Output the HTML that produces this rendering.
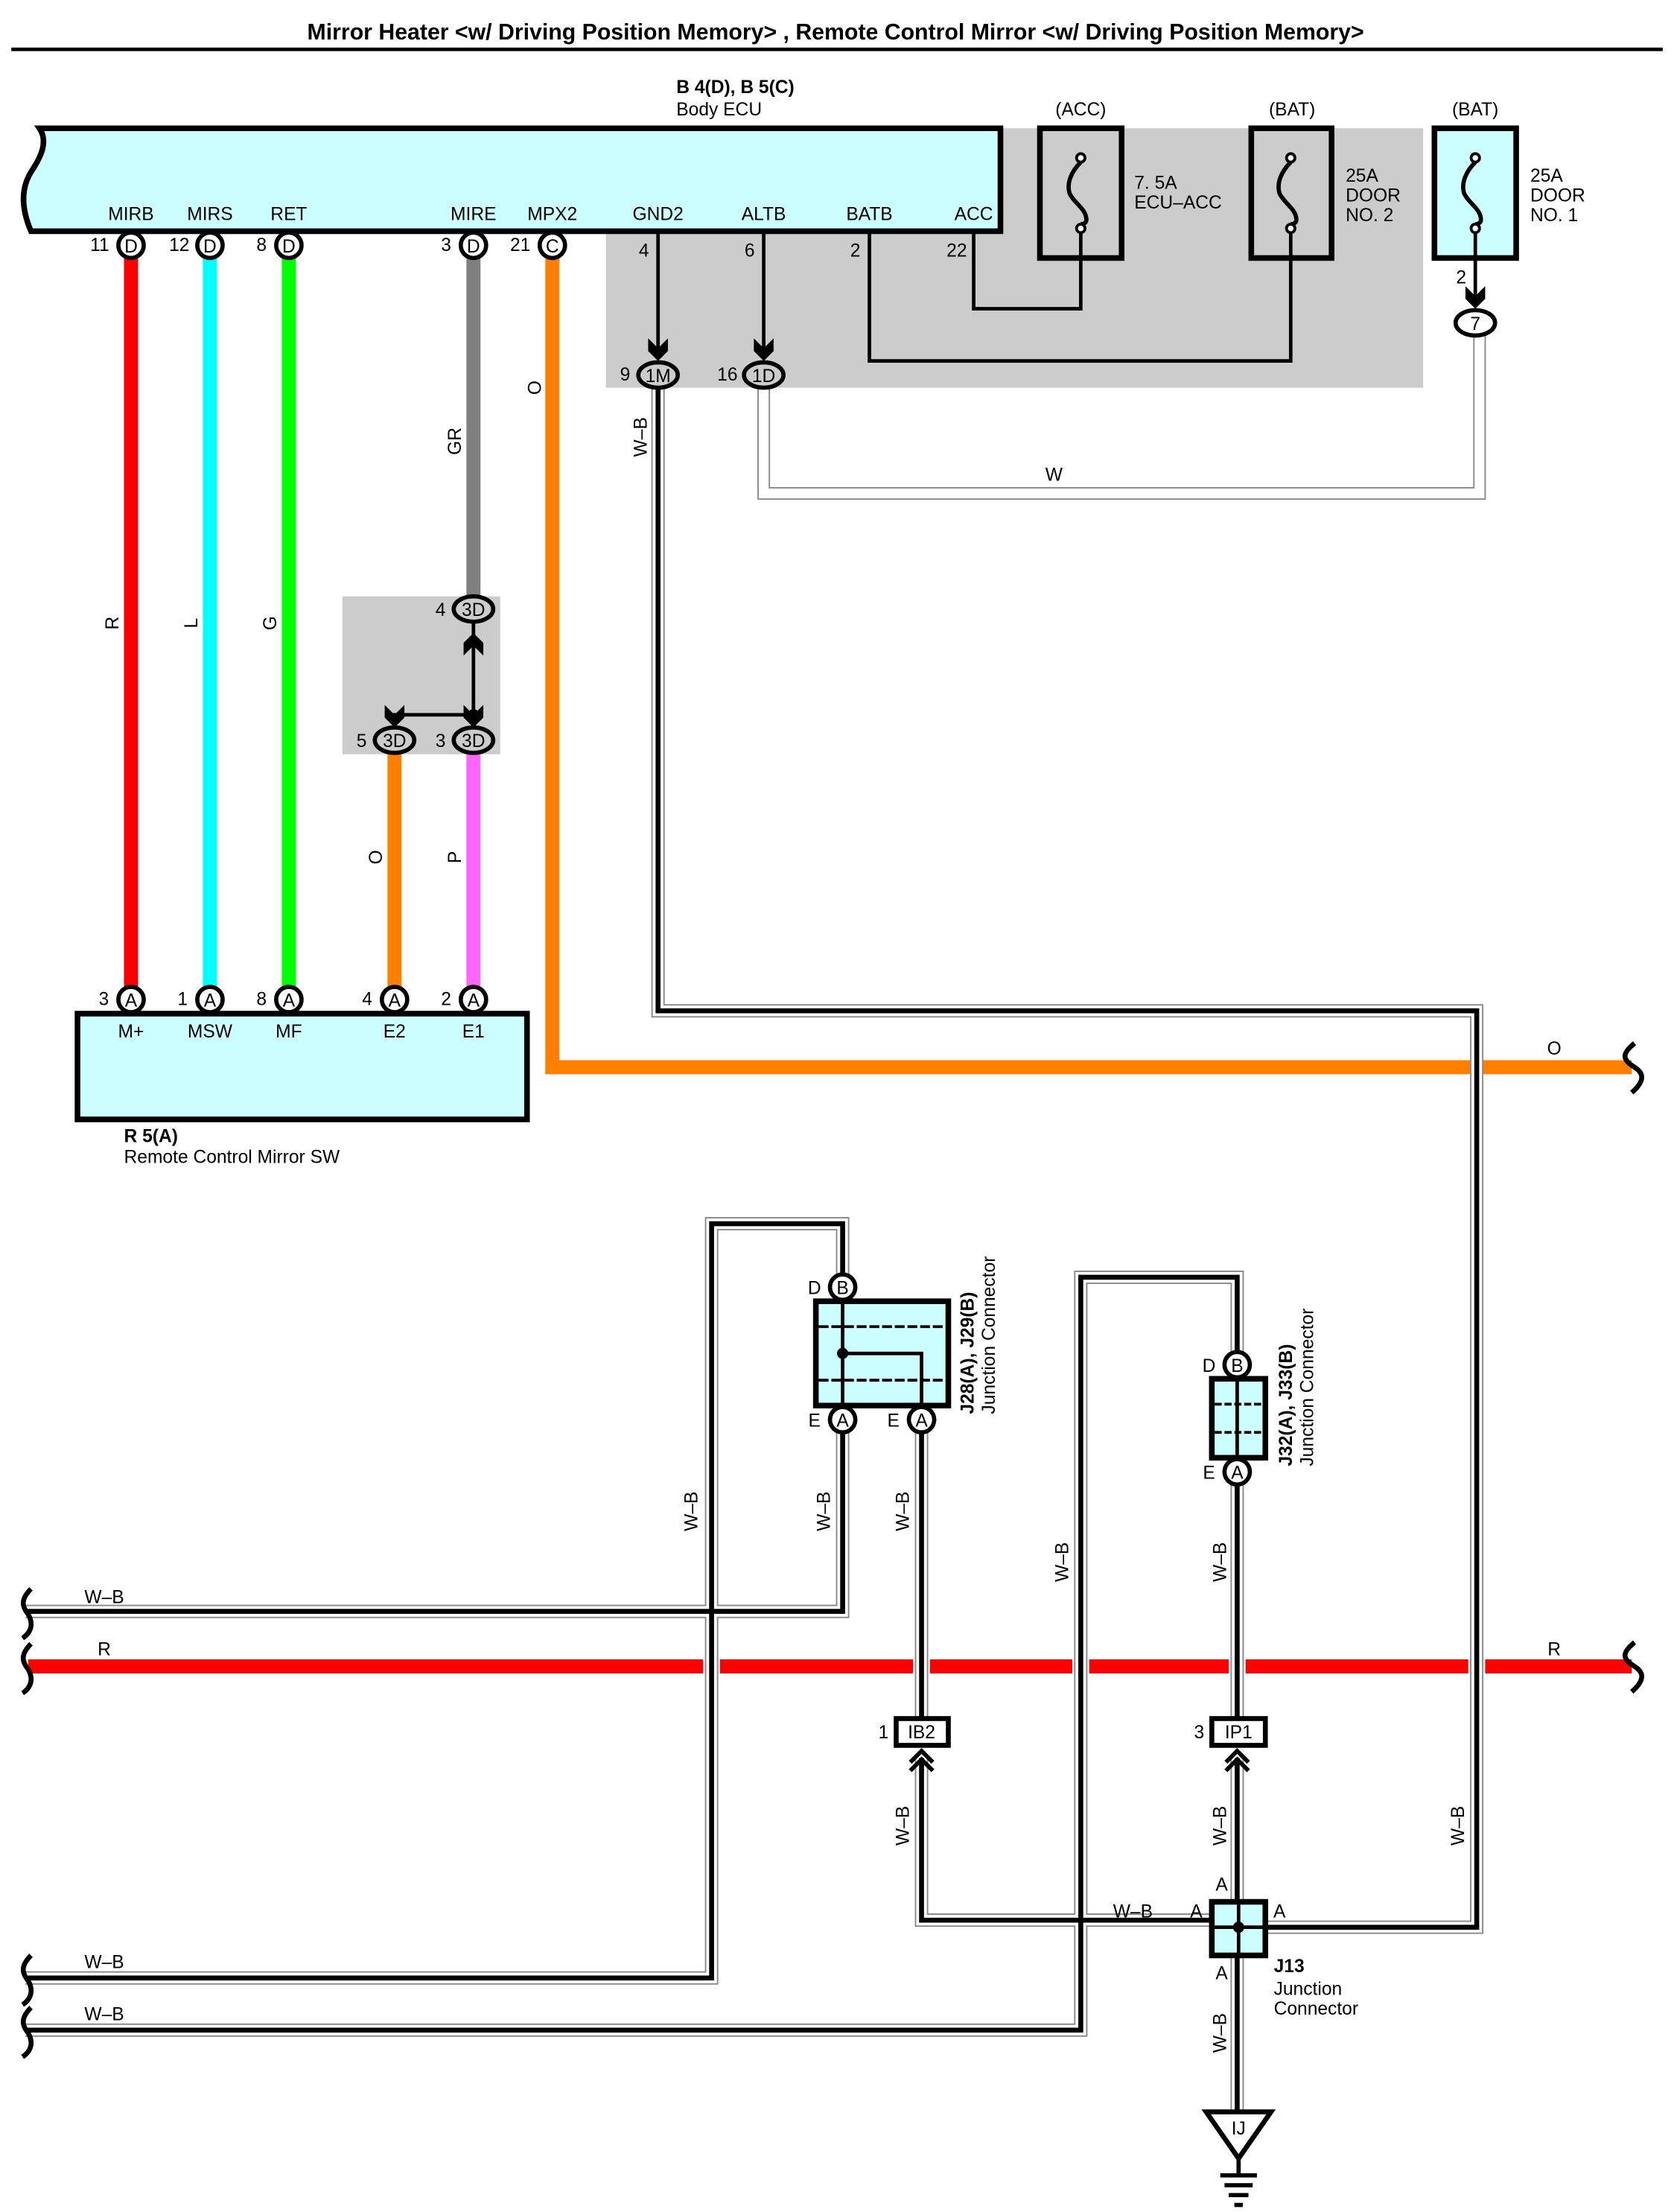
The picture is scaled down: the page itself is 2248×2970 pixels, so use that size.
<!DOCTYPE html>
<html><head><meta charset="utf-8"><style>
html,body{margin:0;padding:0;background:#fff}
svg{display:block}
text{font-family:"Liberation Sans",sans-serif;font-size:13px;fill:#000}
.b{font-weight:bold}
.c{text-anchor:middle}
</style></head><body>
<svg width="2248" height="2970" viewBox="0 0 1188 1569" preserveAspectRatio="none" xmlns="http://www.w3.org/2000/svg">
<defs>
<g id="arr"><polygon points="-7,-13 0,-6 7,-13 7,-4 0,3 -7,-4" fill="#000"/></g>
<g id="arru"><polygon points="-7,13 0,6 7,13 7,4 0,-3 -7,4" fill="#000"/></g>
<g id="chev"><path d="M-8,12 L0,4 L8,12 M-8,6 L0,-2 L8,6" fill="none" stroke="#000" stroke-width="3"/></g>
</defs>
<rect width="1188" height="1569" fill="#fff"/>
<text x="593" y="28" class="b c" style="font-size:16px">Mirror Heater &lt;w/ Driving Position Memory&gt; , Remote Control Mirror &lt;w/ Driving Position Memory&gt;</text>
<line x1="8" y1="35" x2="1180" y2="35" stroke="#000" stroke-width="2.5"/>

<rect x="430" y="91" width="580" height="184" fill="#cccccc"/>
<path d="M28,91 L710,91 L710,164 L22,164 C16,150 14,135 22,122 C30,110 34,100 28,91 Z" fill="#ccffff" stroke="#000" stroke-width="4"/>
<text x="480" y="66" class="b">B 4(D), B 5(C)</text>
<text x="480" y="82">Body ECU</text>
<text x="93" y="156" class="c">MIRB</text><text x="149" y="156" class="c">MIRS</text><text x="205" y="156" class="c">RET</text>
<text x="336" y="156" class="c">MIRE</text><text x="392" y="156" class="c">MPX2</text><text x="467" y="156" class="c">GND2</text>
<text x="542" y="156" class="c">ALTB</text><text x="617" y="156" class="c">BATB</text><text x="691" y="156" class="c">ACC</text>

<rect x="738" y="91" width="58" height="92" fill="none" stroke="#000" stroke-width="4"/>
<rect x="888" y="91" width="57" height="92" fill="none" stroke="#000" stroke-width="4"/>
<rect x="1018" y="91" width="58" height="92" fill="#ccffff" stroke="#000" stroke-width="4"/>
<g fill="none" stroke="#000" stroke-width="3">
<path d="M767,115 C760,122 757,130 759,137 C762,144 771,148 771,156 C771,158 769,159 767,159"/>
<path d="M916,115 C909,122 906,130 908,137 C911,144 920,148 920,156 C920,158 918,159 916,159"/>
<path d="M1047,115 C1040,122 1037,130 1039,137 C1042,144 1051,148 1051,156 C1051,158 1049,159 1047,159"/>
</g>
<g fill="#fff" stroke="#000" stroke-width="2">
<circle cx="767" cy="112" r="3"/><circle cx="767" cy="162" r="3"/>
<circle cx="916" cy="112" r="3"/><circle cx="916" cy="162" r="3"/>
<circle cx="1047" cy="112" r="3"/><circle cx="1047" cy="162" r="3"/>
</g>
<text x="767" y="82" class="c">(ACC)</text><text x="917" y="82" class="c">(BAT)</text><text x="1047" y="82" class="c">(BAT)</text>
<text x="805" y="134">7. 5A</text><text x="805" y="148">ECU–ACC</text>
<text x="955" y="129">25A</text><text x="955" y="143">DOOR</text><text x="955" y="157">NO. 2</text>
<text x="1086" y="129">25A</text><text x="1086" y="143">DOOR</text><text x="1086" y="157">NO. 1</text>

<g fill="none" stroke="#000" stroke-width="2.5">
<path d="M467,164 V252"/><path d="M542,164 V252"/>
<path d="M617,164 V256 H916 V165"/>
<path d="M691,164 V219 H767 V165"/>
<path d="M1047,165 V215"/>
</g>
<text x="457" y="182" class="c">4</text><text x="532" y="182" class="c">6</text><text x="607" y="182" class="c">2</text><text x="679" y="182" class="c">22</text>
<text x="1037" y="201" class="c">2</text>
<use href="#arr" x="467" y="253"/><use href="#arr" x="542" y="253"/><use href="#arr" x="1047" y="216"/>

<path d="M542,275 V350 H1050 V238" fill="none" stroke="#888" stroke-width="9"/>
<path d="M542,275 V350 H1050 V238" fill="none" stroke="#fff" stroke-width="7"/>
<text x="748" y="341" class="c">W</text>

<g fill="none" stroke-width="10">
<path d="M93,183 V700" stroke="#ff0000"/>
<path d="M149,183 V700" stroke="#00ffff"/>
<path d="M205,183 V700" stroke="#00ff00"/>
<path d="M336,183 V423" stroke="#808080"/>
<path d="M392,183 V757 H1158" stroke="#ff8000"/>
<path d="M280,535 V700" stroke="#ff8000"/>
<path d="M336,535 V700" stroke="#ff66ff"/>
</g>
<text transform="translate(84,442) rotate(-90)" class="c">R</text>
<text transform="translate(140,442) rotate(-90)" class="c">L</text>
<text transform="translate(196,442) rotate(-90)" class="c">G</text>
<text transform="translate(327,313) rotate(-90)" class="c">GR</text>
<text transform="translate(384,275) rotate(-90)" class="c">O</text>
<text transform="translate(271,608) rotate(-90)" class="c">O</text>
<text transform="translate(327,608) rotate(-90)" class="c">P</text>
<text x="1103" y="748" class="c">O</text>
<path d="M1160,740 C1150,748 1152,752 1160,757 C1168,762 1166,768 1158,775" fill="none" stroke="#000" stroke-width="3.5"/>

<rect x="243" y="423" width="112" height="112" fill="#cccccc"/>
<g fill="none" stroke="#000" stroke-width="2.5">
<path d="M336,442 V512"/><path d="M336,507 H280 V512"/>
</g>
<circle cx="336" cy="507" r="4"/>
<use href="#arru" x="336" y="452"/><use href="#arr" x="336" y="513"/><use href="#arr" x="280" y="513"/>

<g fill="none">
<g stroke="#888" stroke-width="9.5">
<path d="M467,275 V717 H1048 V1367 H878"/>
<path d="M18,1143 H598 V1007"/>
<path d="M18,1403 H505 V868 H598 V913"/>
<path d="M654,1007 V1228"/>
<path d="M654,1247 V1362 H878"/>
<path d="M18,1440 H767 V906 H878 V968"/>
<path d="M878,1044 V1228"/>
<path d="M878,1247 V1497"/>
</g>
<g stroke="#fff" stroke-width="7.5">
<path d="M467,275 V717 H1048 V1367 H878"/>
<path d="M18,1143 H598 V1007"/>
<path d="M18,1403 H505 V868 H598 V913"/>
<path d="M654,1007 V1228"/>
<path d="M654,1247 V1362 H878"/>
<path d="M18,1440 H767 V906 H878 V968"/>
<path d="M878,1044 V1228"/>
<path d="M878,1247 V1497"/>
</g>
<g stroke="#000" stroke-width="3.5">
<path d="M467,275 V717 H1048 V1367 H878"/>
<path d="M18,1143 H598 V1007"/>
<path d="M18,1403 H505 V868 H598 V913"/>
<path d="M654,1007 V1228"/>
<path d="M654,1247 V1362 H878"/>
<path d="M18,1440 H767 V906 H878 V968"/>
<path d="M878,1044 V1228"/>
<path d="M878,1247 V1497"/>
</g>
</g>

<g stroke="#ff0000" stroke-width="10">
<line x1="20" y1="1182" x2="499" y2="1182"/>
<line x1="511" y1="1182" x2="648" y2="1182"/>
<line x1="660" y1="1182" x2="761" y2="1182"/>
<line x1="773" y1="1182" x2="872" y2="1182"/>
<line x1="884" y1="1182" x2="1042" y2="1182"/>
<line x1="1054" y1="1182" x2="1158" y2="1182"/>
</g>
<path d="M1160,1165 C1150,1173 1152,1177 1160,1182 C1168,1187 1166,1193 1158,1200" fill="none" stroke="#000" stroke-width="3.5"/>
<text x="74" y="1174" class="c">R</text><text x="1103" y="1174" class="c">R</text>
<g fill="none" stroke="#000" stroke-width="3.5">
<path d="M22,1127 C14,1135 16,1140 20,1145 C24,1152 22,1158 16,1162"/>
<path d="M22,1166 C14,1174 16,1179 20,1184 C24,1191 22,1197 16,1201"/>
<path d="M22,1387 C14,1395 16,1400 20,1405 C24,1412 22,1418 16,1422"/>
<path d="M22,1424 C14,1432 16,1437 20,1442 C24,1449 22,1455 16,1459"/>
</g>
<text x="74" y="1137" class="c">W–B</text><text x="74" y="1396" class="c">W–B</text><text x="74" y="1433" class="c">W–B</text>

<text transform="translate(459,310) rotate(-90)" class="c">W–B</text>
<text transform="translate(495,1072) rotate(-90)" class="c">W–B</text>
<text transform="translate(589,1072) rotate(-90)" class="c">W–B</text>
<text transform="translate(645,1072) rotate(-90)" class="c">W–B</text>
<text transform="translate(758,1108) rotate(-90)" class="c">W–B</text>
<text transform="translate(870,1108) rotate(-90)" class="c">W–B</text>
<text transform="translate(645,1295) rotate(-90)" class="c">W–B</text>
<text transform="translate(870,1295) rotate(-90)" class="c">W–B</text>
<text transform="translate(870,1442) rotate(-90)" class="c">W–B</text>
<text transform="translate(1039,1295) rotate(-90)" class="c">W–B</text>
<text x="804" y="1360" class="c">W–B</text>

<g stroke="#000" stroke-width="3" fill="#fff">
<circle cx="93" cy="174" r="9"/><circle cx="149" cy="174" r="9"/><circle cx="205" cy="174" r="9"/>
<circle cx="336" cy="174" r="9"/><circle cx="392" cy="174" r="9"/>
<ellipse cx="467" cy="266" rx="14" ry="9" fill="#ccc"/><ellipse cx="542" cy="266" rx="14" ry="9" fill="#ccc"/>
<ellipse cx="1047" cy="229" rx="14" ry="9"/>
<ellipse cx="336" cy="432" rx="14" ry="9" fill="#ccc"/><ellipse cx="280" cy="525" rx="14" ry="9" fill="#ccc"/><ellipse cx="336" cy="525" rx="14" ry="9" fill="#ccc"/>
<circle cx="93" cy="709" r="9"/><circle cx="149" cy="709" r="9"/><circle cx="205" cy="709" r="9"/><circle cx="280" cy="709" r="9"/><circle cx="336" cy="709" r="9"/>
</g>
<text x="93" y="179" class="c">D</text><text x="149" y="179" class="c">D</text><text x="205" y="179" class="c">D</text><text x="336" y="179" class="c">D</text><text x="392" y="179" class="c">C</text>
<text x="64" y="178">11</text><text x="120" y="178">12</text><text x="182" y="178">8</text><text x="313" y="178">3</text><text x="362" y="178">21</text>
<text x="467" y="271" class="c">1M</text><text x="542" y="271" class="c">1D</text><text x="440" y="270">9</text><text x="509" y="270">16</text>
<text x="1047" y="234" class="c">7</text>
<text x="336" y="437" class="c">3D</text><text x="280" y="530" class="c">3D</text><text x="336" y="530" class="c">3D</text>
<text x="309" y="437">4</text><text x="253" y="530">5</text><text x="309" y="530">3</text>
<text x="93" y="714" class="c">A</text><text x="149" y="714" class="c">A</text><text x="205" y="714" class="c">A</text><text x="280" y="714" class="c">A</text><text x="336" y="714" class="c">A</text>
<text x="70" y="713">3</text><text x="126" y="713">1</text><text x="182" y="713">8</text><text x="257" y="713">4</text><text x="313" y="713">2</text>

<rect x="55" y="719" width="319" height="75" fill="#ccffff" stroke="#000" stroke-width="4"/>
<text x="93" y="736" class="c">M+</text><text x="149" y="736" class="c">MSW</text><text x="205" y="736" class="c">MF</text><text x="280" y="736" class="c">E2</text><text x="336" y="736" class="c">E1</text>
<text x="88" y="810" class="b">R 5(A)</text><text x="88" y="825">Remote Control Mirror SW</text>

<rect x="579" y="923" width="94" height="74" fill="#ccffff" stroke="#000" stroke-width="4"/>
<g stroke="#000" stroke-width="2" stroke-dasharray="7,2"><line x1="581" y1="941" x2="671" y2="941"/><line x1="581" y1="979" x2="671" y2="979"/></g>
<path d="M598,923 V997 M598,960 H654 V997" fill="none" stroke="#000" stroke-width="2.5"/>
<circle cx="598" cy="960" r="4"/>
<g stroke="#000" stroke-width="3" fill="#fff">
<circle cx="598" cy="913" r="9"/><circle cx="598" cy="1007" r="9"/><circle cx="654" cy="1007" r="9"/>
<circle cx="878" cy="968" r="9"/><circle cx="878" cy="1044" r="9"/>
</g>
<text x="598" y="918" class="c">B</text><text x="598" y="1012" class="c">A</text><text x="654" y="1012" class="c">A</text>
<text x="578" y="918" class="c">D</text><text x="578" y="1012" class="c">E</text><text x="634" y="1012" class="c">E</text>
<text transform="translate(691,1003) rotate(-90)" class="b">J28(A), J29(B)</text>
<text transform="translate(706,1003) rotate(-90)">Junction Connector</text>
<rect x="860" y="978" width="38" height="56" fill="#ccffff" stroke="#000" stroke-width="4"/>
<g stroke="#000" stroke-width="2" stroke-dasharray="5,2"><line x1="862" y1="996" x2="896" y2="996"/><line x1="862" y1="1016" x2="896" y2="1016"/></g>
<line x1="878" y1="978" x2="878" y2="1034" stroke="#000" stroke-width="2.5"/>
<text x="878" y="973" class="c">B</text><text x="878" y="1049" class="c">A</text>
<text x="858" y="973" class="c">D</text><text x="858" y="1049" class="c">E</text>
<text transform="translate(917,1040) rotate(-90)" class="b">J32(A), J33(B)</text>
<text transform="translate(932,1040) rotate(-90)">Junction Connector</text>
<rect x="636" y="1219" width="37" height="19" fill="#fff" stroke="#000" stroke-width="3.5"/>
<rect x="860" y="1219" width="38" height="19" fill="#fff" stroke="#000" stroke-width="3.5"/>
<text x="654" y="1233" class="c">IB2</text><text x="879" y="1233" class="c">IP1</text>
<text x="627" y="1233" class="c">1</text><text x="851" y="1233" class="c">3</text>
<use href="#chev" x="654" y="1244"/><use href="#chev" x="878" y="1244"/>
<rect x="860" y="1349" width="38" height="38" fill="#ccffff" stroke="#000" stroke-width="4"/>
<path d="M879,1349 V1387 M860,1367 H898" stroke="#000" stroke-width="2.5"/>
<circle cx="879" cy="1367" r="4"/>
<text x="867" y="1341" class="c">A</text><text x="849" y="1360" class="c">A</text><text x="908" y="1360" class="c">A</text><text x="867" y="1404" class="c">A</text>
<text x="904" y="1399" class="b">J13</text><text x="904" y="1415">Junction</text><text x="904" y="1429">Connector</text>
<polygon points="856,1498 902,1498 879,1531" fill="#fff" stroke="#000" stroke-width="3.5"/>
<text x="879" y="1514" class="c">IJ</text>
<g stroke="#000" stroke-width="3"><line x1="879" y1="1531" x2="879" y2="1543"/><line x1="866" y1="1543" x2="892" y2="1543"/><line x1="869" y1="1550" x2="889" y2="1550"/><line x1="872" y1="1557" x2="886" y2="1557"/><line x1="876" y1="1564" x2="882" y2="1564"/></g>
</svg>
</body></html>
